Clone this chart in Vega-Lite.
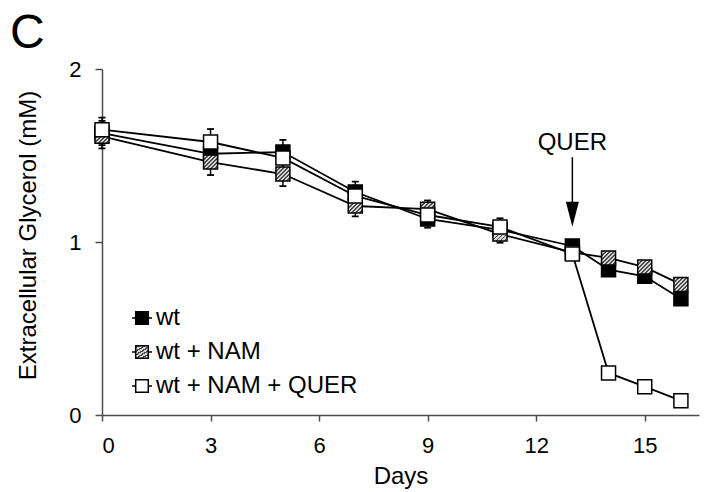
{
  "$schema": "https://vega.github.io/schema/vega-lite/v6.json",
  "width": 597,
  "height": 346,
  "autosize": {"type": "none"},
  "padding": {"left": 102, "top": 69, "right": 11, "bottom": 77},
  "background": "white",
  "title": {
    "text": "C",
    "anchor": "start",
    "frame": "group",
    "font": "Liberation Sans",
    "fontSize": 48,
    "fontWeight": "normal",
    "color": "black",
    "offset": 22,
    "dx": -92,
    "dy": 22
  },
  "datasets": {
    "glycerol": [
      {"day": 0, "series": "wt", "value": 1.63, "lo": 1.56, "hi": 1.70},
      {"day": 3, "series": "wt", "value": 1.51, "lo": 1.435, "hi": 1.585},
      {"day": 5, "series": "wt", "value": 1.52, "lo": 1.45, "hi": 1.59},
      {"day": 7, "series": "wt", "value": 1.289, "lo": 1.229, "hi": 1.349},
      {"day": 9, "series": "wt", "value": 1.133, "lo": 1.083, "hi": 1.183},
      {"day": 11, "series": "wt", "value": 1.07, "lo": 1.02, "hi": 1.12},
      {"day": 13, "series": "wt", "value": 0.977, "lo": 0.957, "hi": 0.997},
      {"day": 14, "series": "wt", "value": 0.84, "lo": 0.82, "hi": 0.86},
      {"day": 15, "series": "wt", "value": 0.802, "lo": 0.782, "hi": 0.822},
      {"day": 16, "series": "wt", "value": 0.672, "lo": 0.652, "hi": 0.692},
      {"day": 0, "series": "wt + NAM", "value": 1.611, "lo": 1.541, "hi": 1.681},
      {"day": 3, "series": "wt + NAM", "value": 1.462, "lo": 1.387, "hi": 1.537},
      {"day": 5, "series": "wt + NAM", "value": 1.393, "lo": 1.323, "hi": 1.463},
      {"day": 7, "series": "wt + NAM", "value": 1.208, "lo": 1.148, "hi": 1.268},
      {"day": 9, "series": "wt + NAM", "value": 1.19, "lo": 1.14, "hi": 1.24},
      {"day": 11, "series": "wt + NAM", "value": 1.046, "lo": 0.996, "hi": 1.096},
      {"day": 13, "series": "wt + NAM", "value": 0.94, "lo": 0.92, "hi": 0.96},
      {"day": 14, "series": "wt + NAM", "value": 0.908, "lo": 0.888, "hi": 0.928},
      {"day": 15, "series": "wt + NAM", "value": 0.855, "lo": 0.835, "hi": 0.875},
      {"day": 16, "series": "wt + NAM", "value": 0.755, "lo": 0.735, "hi": 0.775},
      {"day": 0, "series": "wt + NAM + QUER", "value": 1.649, "lo": 1.579, "hi": 1.719},
      {"day": 3, "series": "wt + NAM + QUER", "value": 1.578, "lo": 1.503, "hi": 1.653},
      {"day": 5, "series": "wt + NAM + QUER", "value": 1.486, "lo": 1.416, "hi": 1.556},
      {"day": 7, "series": "wt + NAM + QUER", "value": 1.266, "lo": 1.206, "hi": 1.326},
      {"day": 9, "series": "wt + NAM + QUER", "value": 1.156, "lo": 1.106, "hi": 1.206},
      {"day": 11, "series": "wt + NAM + QUER", "value": 1.087, "lo": 1.037, "hi": 1.137},
      {"day": 13, "series": "wt + NAM + QUER", "value": 0.931, "lo": 0.911, "hi": 0.951},
      {"day": 14, "series": "wt + NAM + QUER", "value": 0.243, "lo": 0.223, "hi": 0.263},
      {"day": 15, "series": "wt + NAM + QUER", "value": 0.164, "lo": 0.144, "hi": 0.184},
      {"day": 16, "series": "wt + NAM + QUER", "value": 0.083, "lo": 0.063, "hi": 0.103}
    ],
    "treatment": [
      {"day": 13, "label": "QUER", "textY": 1.532, "from": 1.49, "to": 1.2, "tip": 1.16}
    ]
  },
  "layer": [
    {
      "data": {"name": "glycerol"},
      "mark": {"type": "line", "color": "black", "strokeWidth": 1.8},
      "encoding": {
        "x": {"field": "day", "type": "quantitative"},
        "y": {"field": "value", "type": "quantitative"},
        "detail": {"field": "series"}
      }
    },
    {
      "data": {"name": "glycerol"},
      "mark": {"type": "rule", "color": "black", "strokeWidth": 1.5},
      "encoding": {
        "x": {"field": "day", "type": "quantitative"},
        "y": {"field": "lo", "type": "quantitative"},
        "y2": {"field": "hi"}
      }
    },
    {
      "data": {"name": "glycerol"},
      "mark": {"type": "tick", "orient": "horizontal", "color": "black", "size": 7, "thickness": 1.8, "opacity": 1},
      "encoding": {
        "x": {"field": "day", "type": "quantitative"},
        "y": {"field": "hi", "type": "quantitative"}
      }
    },
    {
      "data": {"name": "glycerol"},
      "mark": {"type": "tick", "orient": "horizontal", "color": "black", "size": 7, "thickness": 1.8, "opacity": 1},
      "encoding": {
        "x": {"field": "day", "type": "quantitative"},
        "y": {"field": "lo", "type": "quantitative"}
      }
    },
    {
      "data": {"name": "glycerol"},
      "mark": {"type": "point", "shape": "square", "size": 196, "filled": true, "stroke": "black", "strokeWidth": 1.5, "opacity": 1, "fillOpacity": 1, "strokeOpacity": 1},
      "encoding": {
        "x": {
          "field": "day",
          "type": "quantitative",
          "scale": {"domain": [0, 16.5], "nice": false, "zero": false},
          "axis": {
            "values": [0, 3, 6, 9, 12, 15],
            "title": "Days",
            "labelPadding": 14,
            "titleY": 68,
            "titleBaseline": "alphabetic"
          }
        },
        "y": {
          "field": "value",
          "type": "quantitative",
          "scale": {"domain": [0, 2], "nice": false, "zero": true},
          "axis": {
            "values": [0, 1, 2],
            "format": ".0f",
            "labelOverlap": false,
            "title": "Extracellular Glycerol (mM)",
            "tickSize": 7,
            "labelPadding": 14,
            "titleX": -67,
            "titleY": 166,
            "titleBaseline": "alphabetic",
            "titleAngle": -90,
            "titleAlign": "center"
          }
        },
        "fill": {
          "field": "series",
          "type": "nominal",
          "scale": {
            "domain": ["wt", "wt + NAM", "wt + NAM + QUER"],
            "range": [
              "black",
              {"expr": "{gradient: 'linear', x1: 0, y1: 0, x2: 1, y2: 1, stops: [{offset: 0, color: '#4a4a4a'}, {offset: 0.0643, color: '#4a4a4a'}, {offset: 0.0643, color: '#d6d6d6'}, {offset: 0.1429, color: '#d6d6d6'}, {offset: 0.1429, color: '#4a4a4a'}, {offset: 0.2071, color: '#4a4a4a'}, {offset: 0.2071, color: '#d6d6d6'}, {offset: 0.2857, color: '#d6d6d6'}, {offset: 0.2857, color: '#4a4a4a'}, {offset: 0.35, color: '#4a4a4a'}, {offset: 0.35, color: '#d6d6d6'}, {offset: 0.4286, color: '#d6d6d6'}, {offset: 0.4286, color: '#4a4a4a'}, {offset: 0.4929, color: '#4a4a4a'}, {offset: 0.4929, color: '#d6d6d6'}, {offset: 0.5714, color: '#d6d6d6'}, {offset: 0.5714, color: '#4a4a4a'}, {offset: 0.6357, color: '#4a4a4a'}, {offset: 0.6357, color: '#d6d6d6'}, {offset: 0.7143, color: '#d6d6d6'}, {offset: 0.7143, color: '#4a4a4a'}, {offset: 0.7786, color: '#4a4a4a'}, {offset: 0.7786, color: '#d6d6d6'}, {offset: 0.8571, color: '#d6d6d6'}, {offset: 0.8571, color: '#4a4a4a'}, {offset: 0.9214, color: '#4a4a4a'}, {offset: 0.9214, color: '#d6d6d6'}, {offset: 1, color: '#d6d6d6'}]}"},
              "white"
            ]
          },
          "legend": {
            "title": null,
            "orient": "none",
            "legendX": 28,
            "legendY": 237,
            "padding": 0,
            "symbolType": "M-1,0L-0.63,0M0.63,0L1,0M-0.63,-0.63L0.63,-0.63L0.63,0.63L-0.63,0.63Z",
            "symbolSize": 400,
            "symbolStrokeColor": "black",
            "symbolStrokeWidth": 1.5,
            "symbolOpacity": 1,
            "labelFont": "Liberation Sans",
            "labelFontSize": 24,
            "labelColor": "black",
            "labelOffset": 2,
            "rowPadding": 10,
            "labelLimit": 400
          }
        }
      }
    },
    {
      "data": {"name": "treatment"},
      "mark": {"type": "rule", "color": "black", "strokeWidth": 1.5},
      "encoding": {
        "x": {"field": "day", "type": "quantitative"},
        "y": {"field": "from", "type": "quantitative"},
        "y2": {"field": "to"}
      }
    },
    {
      "data": {"name": "treatment"},
      "mark": {"type": "point", "shape": "M-0.52,-1L0.52,-1L0,1Z", "size": 625, "filled": true, "color": "black", "opacity": 1},
      "encoding": {
        "x": {"field": "day", "type": "quantitative"},
        "y": {"field": "tip", "type": "quantitative"}
      }
    },
    {
      "data": {"name": "treatment"},
      "mark": {"type": "text", "font": "Liberation Sans", "fontSize": 24, "color": "black", "baseline": "alphabetic", "align": "center"},
      "encoding": {
        "x": {"field": "day", "type": "quantitative"},
        "y": {"field": "textY", "type": "quantitative"},
        "text": {"field": "label"}
      }
    }
  ],
  "config": {
    "view": {"stroke": null},
    "font": "Liberation Sans",
    "axis": {
      "grid": false,
      "domainColor": "#4d4d4d",
      "domainWidth": 1.5,
      "tickColor": "#4d4d4d",
      "tickWidth": 1.5,
      "tickSize": 6,
      "labelFont": "Liberation Sans",
      "labelFontSize": 22,
      "labelColor": "black",
      "titleFont": "Liberation Sans",
      "titleFontSize": 24,
      "titleFontWeight": "normal",
      "titleColor": "black"
    }
  }
}
